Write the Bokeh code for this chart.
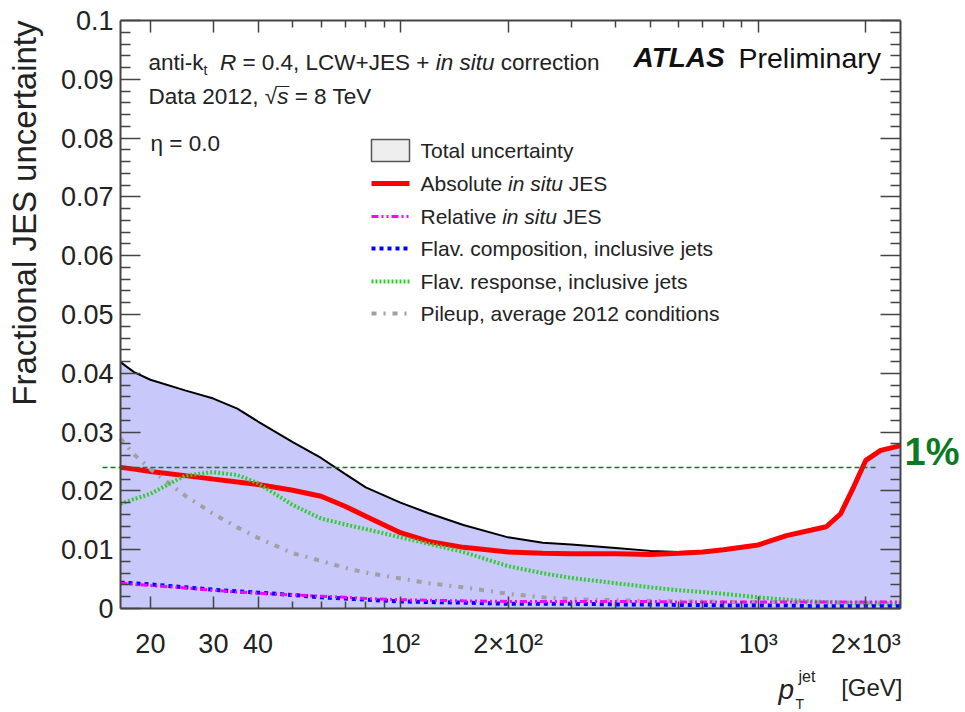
import math
from bokeh.plotting import figure
from bokeh.models import (Range1d, FixedTicker, LogAxis, LinearAxis,
                          Label, Arrow, CustomJSTickFormatter)
from bokeh.embed import file_html
from bokeh.resources import INLINE

# ---------------- data ----------------
pt = [16.5, 18, 20, 25, 30, 35, 40, 50, 60, 70, 80,
      100, 120, 150, 200, 250, 300, 400, 500, 600, 700,
      800, 1000, 1200, 1400, 1550, 1700, 1850, 2000, 2200, 2500]
total_unc = [.0419, .0402, .0389, .0371, .0357, .0340, .0318, .0283, .0256, .0229, .0206,
             .0180, .0162, .0142, .0121, .0112, .0109, .0103, .0098, .0096, .0097,
             .0100, .0108, .0124, .0133, .0139, .0161, .0207, .0252, .0269, .0277]
abs_insitu = [.0240, .0237, .0233, .0226, .0220, .0215, .0211, .0201, .0191, .0174, .0157,
              .0129, .0114, .0104, .0096, .0094, .0093, .0093, .0092, .0094, .0096,
              .0100, .0108, .0124, .0133, .0139, .0161, .0207, .0252, .0269, .0277]
rel_insitu = [.0043, .0041, .0039, .0035, .0031, .0028, .0026, .0023, .0021, .0019, .0017,
              .0015, .0014, .0013, .0012, .0012, .0012, .0012, .0012, .0011, .0011,
              .0011, .0011, .0011, .0011, .0011, .0011, .0011, .0011, .0011, .0011]
flav_comp = [.0044, .0043, .0041, .0036, .0032, .0029, .0027, .0023, .0019, .0017, .0015,
             .0012, .0011, .0010, .0008, .0008, .0008, .0007, .0007, .0006, .0006,
             .0005, .0005, .0005, .0004, .0004, .0004, .0004, .0004, .0004, .0004]
flav_resp = [.0178, .0186, .0195, .0226, .0232, .0227, .0213, .0176, .0153, .0143, .0135,
             .0121, .0110, .0096, .0072, .0060, .0052, .0043, .0036, .0031, .0028,
             .0025, .0019, .0015, .0012, .0011, .0010, .0009, .0009, .0008, .0008]
pileup = [.0289, .0262, .0237, .0192, .0161, .0138, .0120, .0094, .0081, .0069, .0061,
          .0051, .0043, .0036, .0025, .0019, .0016, .0014, .0013, .0012, .0012,
          .0011, .0011, .0011, .0010, .0010, .0010, .0010, .0010, .0010, .0010]
one_percent_level = 0.024

x_tick_values = [20, 30, 40, 100, 200, 1000, 2000]
x_tick_labels = ["20", "30", "40", "10²", "2×10²", "10³", "2×10³"]
x_minor_ticks = [50, 60, 70, 80, 90, 300, 400, 500, 600, 700, 800, 900]
y_tick_values = [0.0, 0.01, 0.02, 0.03, 0.04, 0.05, 0.06, 0.07, 0.08, 0.09, 0.1]
x_lo, x_hi = 16.5, 2500
y_lo, y_hi = 0.0, 0.1

# ---------------- layout constants ----------------
W, H = 965, 712
FL, FR, FT, FB = 120, 900, 20, 608          # plot box edges in canvas pixels
FONT = "Liberation Sans"
TXT = "#222222"


def px2x(px):
    a, b = math.log10(x_lo), math.log10(x_hi)
    return 10 ** (a + (px - FL) / (FR - FL) * (b - a))


def py2y(py):
    return y_hi - (py - FT) / (FB - FT) * (y_hi - y_lo)


AW = {' ': 278, ',': 278, '-': 333, '.': 278, '=': 584, '+': 584, '[': 278, ']': 278,
      '%': 889, '√': 549, 'η': 556}
for ch in '0123456789':
    AW[ch] = 556
AW.update(dict(zip('ABCDEFGHIJKLMNOPQRSTUVWXYZ',
                   [667, 667, 722, 722, 667, 611, 778, 722, 278, 500, 667, 556, 833,
                    722, 778, 667, 778, 722, 667, 611, 722, 667, 944, 667, 667, 611])))
AW.update(dict(zip('abcdefghijklmnopqrstuvwxyz',
                   [556, 556, 500, 556, 556, 278, 556, 556, 222, 222, 500, 222, 833,
                    556, 556, 556, 556, 333, 500, 278, 556, 500, 722, 500, 500, 500])))


def tw(s, size):
    return sum(AW.get(c, 556) for c in s) * size / 1000.0


# the frame covers the whole canvas; the axes are pinned at the box edges
p = figure(width=W, height=H, x_axis_type="log",
           x_range=Range1d(px2x(0), px2x(W)), y_range=Range1d(py2y(H), py2y(0)),
           output_backend="svg", toolbar_location=None,
           min_border_left=0, min_border_right=0, min_border_top=0, min_border_bottom=0)
p.xgrid.visible = False
p.ygrid.visible = False
p.outline_line_color = None
p.background_fill_color = "white"
p.border_fill_color = "white"


def style_axis(ax, major_in, minor_in, show_labels, size="27px"):
    ax.axis_line_color = "#444444"
    ax.axis_line_width = 2
    ax.major_tick_line_color = "#444444"
    ax.minor_tick_line_color = "#444444"
    ax.major_tick_line_width = 1.5
    ax.minor_tick_line_width = 1.5
    ax.major_tick_in = major_in
    ax.major_tick_out = 0
    ax.minor_tick_in = minor_in
    ax.minor_tick_out = 0
    ax.major_label_text_font = FONT
    ax.major_label_text_color = TXT
    if show_labels:
        ax.major_label_text_font_size = size
    else:
        ax.major_label_text_font_size = "0px"
        ax.major_label_text_alpha = 0
        ax.major_label_standoff = 0


y_minor = [round(i * 0.002, 3) for i in range(51) if i % 5]

xfmt = CustomJSTickFormatter(args=dict(vals=x_tick_values, labs=x_tick_labels),
                             code="const i = vals.indexOf(Math.round(tick)); return i >= 0 ? labs[i] : '';")
yfmt = CustomJSTickFormatter(code="let s = tick.toFixed(2); s = s.replace(/0+$/, ''); s = s.replace(/\\.$/, ''); return s;")

xa = p.xaxis[0]
xa.ticker = FixedTicker(ticks=x_tick_values, minor_ticks=x_minor_ticks)
xa.formatter = xfmt
xa.fixed_location = y_lo
xa.bounds = (x_lo, x_hi)
style_axis(xa, 12, 7, True, "27px")
xa.major_label_standoff = 20

ya = p.yaxis[0]
ya.ticker = FixedTicker(ticks=y_tick_values, minor_ticks=y_minor)
ya.formatter = yfmt
ya.fixed_location = x_lo
ya.bounds = (y_lo, y_hi)
style_axis(ya, 20, 10, True, "27px")
ya.major_label_standoff = 7

top = LogAxis(ticker=FixedTicker(ticks=x_tick_values, minor_ticks=x_minor_ticks),
              fixed_location=y_hi, bounds=(x_lo, x_hi))
style_axis(top, 12, 7, False)
p.add_layout(top, "above")
right = LinearAxis(ticker=FixedTicker(ticks=y_tick_values, minor_ticks=y_minor),
                   fixed_location=x_hi, bounds=(y_lo, y_hi))
style_axis(right, 20, 10, False)
p.add_layout(right, "right")

# ---------------- series ----------------
FILL = "#c8c8fa"
p.varea(x=pt, y1=[y_lo] * len(pt), y2=total_unc, fill_color=FILL)
STY = {
    "total": dict(line_color="black", line_width=2),
    "abs": dict(line_color="#ff0000", line_width=5),
    "pile": dict(line_color="#a0a0a0", line_width=4, line_dash="5 7 2 7"),
    "resp": dict(line_color="#33cc33", line_width=4, line_dash="2 2"),
    "comp": dict(line_color="#0000ff", line_width=4, line_dash="4 4"),
    "rel": dict(line_color="#ff00ff", line_width=3, line_dash="7 3 2 3 2 3"),
}
p.line(pt, total_unc, **STY["total"])
p.line(pt, abs_insitu, **STY["abs"])
p.line(pt, pileup, **STY["pile"])
p.line(pt, flav_resp, **STY["resp"])
p.line(pt, flav_comp, **STY["comp"])
p.line(pt, rel_insitu, **STY["rel"])

# 1% reference line
GREEN = "#0b7a22"
p.add_layout(Arrow(end=None, x_start=px2x(102), y_start=one_percent_level,
                   x_end=px2x(878), y_end=one_percent_level,
                   line_color=GREEN, line_width=1.5, line_dash="5 3"))


def label(px, py, text, size, style="normal", align="left", color=TXT, angle=0.0,
          baseline="middle"):
    p.add_layout(Label(x=px2x(px), y=py2y(py), text=text, text_font=FONT,
                       text_font_size=f"{size}px", text_font_style=style,
                       text_color=color, text_align=align, text_baseline=baseline,
                       angle=angle))


def rich(px, py, segs, size):
    """segs: list of (text, style, scale, dy); py is the line's vertical centre"""
    x = px
    for text, style, scale, dy in segs:
        s = size * scale
        lead = len(text) - len(text.lstrip(' '))
        x += tw(' ' * lead, s)
        core = text.strip(' ')
        if core:
            label(x, py + dy, core, round(s, 1), style)
            x += tw(core, s)
        trail = len(text) - len(text.rstrip(' '))
        x += tw(' ' * trail, s)
    return x


# ---------------- texts ----------------
S1 = 22.5
rich(148, 62, [("anti-k", "normal", 1, 0), ("t", "normal", 0.62, 7), (" ", "normal", 1, 0),
               ("R", "italic", 1, 0), (" = 0.4, LCW+JES + ", "normal", 1, 0),
               ("in situ", "italic", 1, 0), (" correction", "normal", 1, 0)], S1)
xs = rich(148, 96, [("Data 2012, ", "normal", 1, 0), ("√", "normal", 1, 0)], S1)
xs2 = rich(xs, 96, [("s", "italic", 1, 0)], S1)
p.line([px2x(xs - 1), px2x(xs2 + 1)], [py2y(86)] * 2, line_color=TXT, line_width=1)
rich(xs2, 96, [(" = 8 TeV", "normal", 1, 0)], S1)
label(150, 143, "η = 0.0", S1)

label(633, 57, "ATLAS", 28, "bold italic", color="#111111")
label(738, 57, "Preliminary", 28.5, color="#111111")

# legend
rows_y = [150, 183, 216, 248, 281, 313]
SW0, SW1 = 371, 409
LS = 21
p.quad(left=px2x(SW0), right=px2x(SW1), top=py2y(rows_y[0] - 11), bottom=py2y(rows_y[0] + 11),
       fill_color="#eeeeee", line_color="#555555", line_width=1.5)
for key, yy in zip(["abs", "rel", "comp", "resp", "pile"], rows_y[1:]):
    p.line([px2x(SW0), px2x(SW1)], [py2y(yy)] * 2, **STY[key])
legend_texts = [
    [("Total uncertainty", "normal")],
    [("Absolute ", "normal"), ("in situ", "italic"), (" JES", "normal")],
    [("Relative ", "normal"), ("in situ", "italic"), (" JES", "normal")],
    [("Flav. composition, inclusive jets", "normal")],
    [("Flav. response, inclusive jets", "normal")],
    [("Pileup, average 2012 conditions", "normal")],
]
for segs, yy in zip(legend_texts, rows_y):
    rich(420, yy, [(t, s, 1, 0) for t, s in segs], LS)

# axis titles
label(24, 20, "Fractional JES uncertainty", 33, align="right", angle=math.pi / 2)
label(778, 689, "p", 28, "italic")
label(798, 676, "jet", 16)
label(795, 703, "T", 14)
label(902, 687, "[GeV]", 24, align="right")

# 1% label
label(904, 451, "1%", 38, "bold", color=GREEN)

open("out.html", "w").write(file_html(p, INLINE))
